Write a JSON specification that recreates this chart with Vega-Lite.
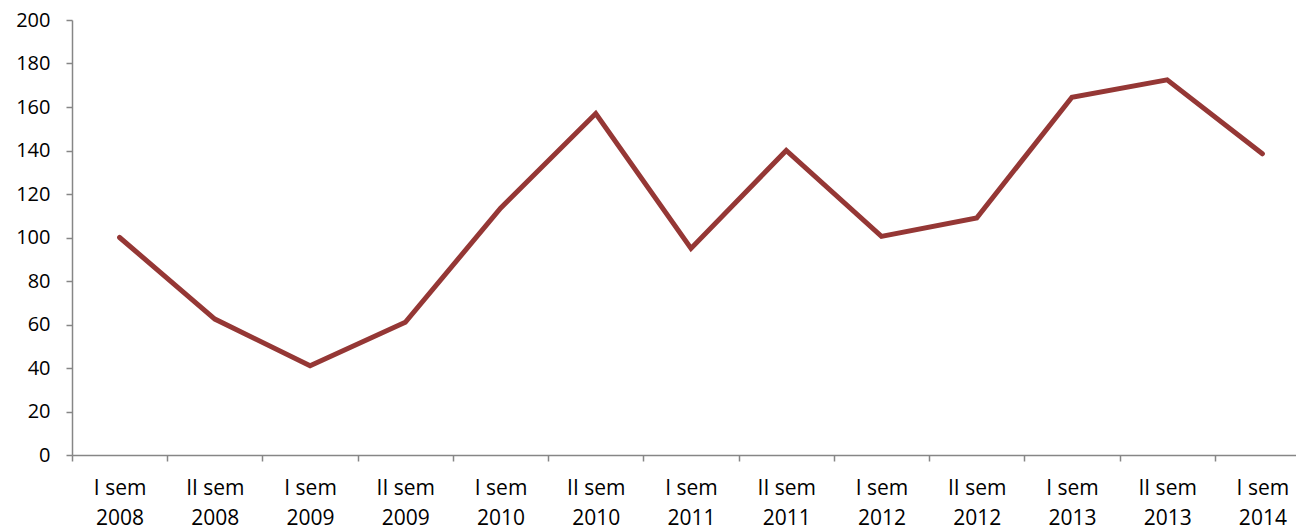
{
  "$schema": "https://vega.github.io/schema/vega-lite/v6.json",
  "autosize": "none",
  "padding": {"left": 72, "top": 20, "right": 0, "bottom": 77},
  "width": 1238,
  "height": 435,
  "background": "white",
  "data": {"values": [
    {"period": "I sem|2008", "value": 100},
    {"period": "II sem|2008", "value": 62.5},
    {"period": "I sem|2009", "value": 41},
    {"period": "II sem|2009", "value": 61},
    {"period": "I sem|2010", "value": 113.5},
    {"period": "II sem|2010", "value": 157},
    {"period": "I sem|2011", "value": 95},
    {"period": "II sem|2011", "value": 140},
    {"period": "I sem|2012", "value": 100.5},
    {"period": "II sem|2012", "value": 109},
    {"period": "I sem|2013", "value": 164.5},
    {"period": "II sem|2013", "value": 172.5},
    {"period": "I sem|2014", "value": 138.5}
  ]},
  "config": {
    "view": {"stroke": null},
    "axis": {
      "domainColor": "#868686", "tickColor": "#868686", "domainWidth": 1.5, "tickWidth": 1.5,
      "labelFont": "Open Sans", "labelFontSize": 20, "labelColor": "#000000", "grid": false, "title": null
    }
  },
  "mark": {"type": "line", "color": "#953735", "strokeWidth": 5, "strokeJoin": "miter", "strokeCap": "round"},
  "encoding": {
    "x": {
      "field": "period", "type": "ordinal", "sort": null,
      "scale": {"paddingInner": 0, "paddingOuter": 0},
      "axis": {"labelAngle": 0, "tickBand": "extent", "tickSize": 6, "labelPadding": 16, "labelLineHeight": 30, "labelFontSize": 21, "labelExpr": "isString(datum.value) ? split(datum.value, '|') : ''"}
    },
    "y": {
      "field": "value", "type": "quantitative",
      "scale": {"domain": [0, 200], "nice": false},
      "axis": {"values": [0,20,40,60,80,100,120,140,160,180,200], "tickSize": 6, "labelPadding": 16}
    }
  }
}
